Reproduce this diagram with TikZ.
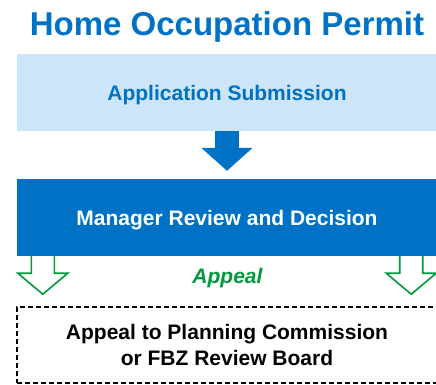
\documentclass[tikz,border=0pt]{standalone}
\usepackage{fontspec}
\setmainfont{Liberation Sans}
\usetikzlibrary{arrows.meta,positioning,calc}
\definecolor{permitblue}{RGB}{0,114,198}
\definecolor{paleblue}{RGB}{204,229,248}
\definecolor{appealgreen}{RGB}{0,154,60}

\begin{document}
\begin{tikzpicture}[x=1pt,y=-1pt,
    stagebox/.style={rectangle,minimum width=420pt,minimum height=77pt,inner sep=0pt,
      text depth=0pt,align=center,font=\fontsize{21}{26}\selectfont\bfseries},
    appealarrow/.style={draw=appealgreen,line width=1.6pt,line join=miter}]
        \useasboundingbox (0,0) rectangle (436,385);
        \node[font=\fontsize{33}{40}\selectfont\bfseries,text=permitblue,anchor=base] (title) at (227,36) {Home Occupation Permit};
        \node[stagebox,fill=paleblue,text=permitblue] (sub) at (227,92.5) {Application Submission};
        \node[stagebox,fill=permitblue,text=white] (mgr) at (227,217.5) {Manager Review and Decision};
        \node[stagebox,minimum width=430pt,minimum height=76pt,draw=black,line width=1.8pt,
          dash pattern=on 5pt off 3pt] (board) at (232,345)
          {Appeal to Planning Commission\hspace*{10pt}\\or FBZ Review Board\hspace*{10pt}};
        \draw[permitblue,line width=24pt,-{Triangle[length=23pt,width=50pt]},shorten >=8pt] (sub.south) -- (mgr.north);
        % hollow appeal arrows down to the board
        \coordinate (la) at ($(mgr.south west)+(26,0)$);
        \coordinate (ra) at ($(mgr.south east)+(-26,0)$);
        \foreach \a in {la,ra}
          \draw[appealarrow] (\a) ++(-11.5,0) -- ++(0,17) -- ++(-13.5,0) -- ++(25,21)
            -- ++(25,-21) -- ++(-13.5,0) -- ++(0,-17);
        \node[font=\fontsize{21}{26}\selectfont\bfseries\itshape,text=appealgreen,anchor=base] (appeal) at (227.5,283.5) {Appeal};
      \end{tikzpicture}
\end{document}
